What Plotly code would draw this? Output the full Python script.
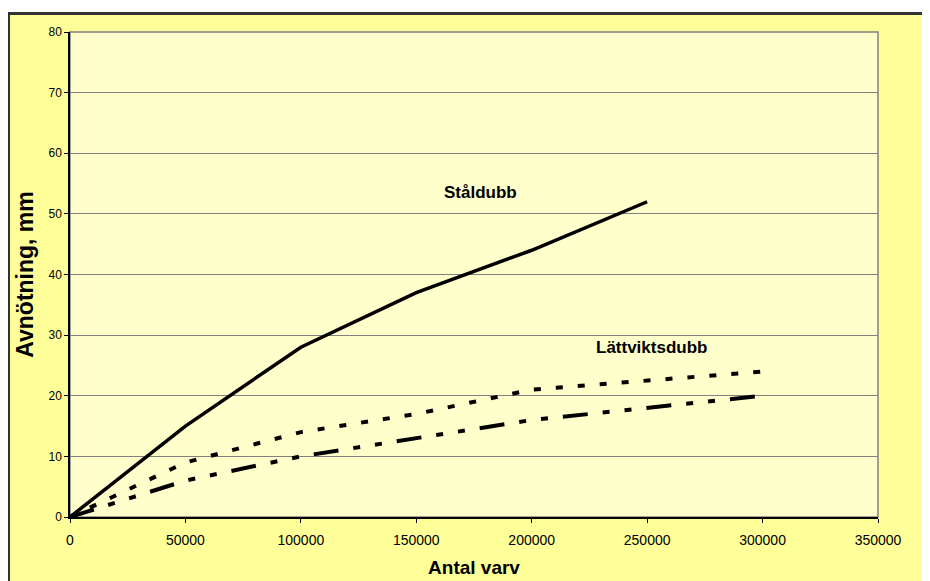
import plotly.graph_objects as go

# Data
x_steel = [0, 50000, 100000, 150000, 200000, 250000]
y_steel = [0, 15, 28, 37, 44, 52]

x_light1 = [0, 50000, 100000, 150000, 200000, 300000]
y_light1 = [0, 9, 14, 17, 21, 24]

x_light2 = [0, 50000, 100000, 150000, 200000, 300000]
y_light2 = [0, 6, 10, 13, 16, 20]

x_ticks = [0, 50000, 100000, 150000, 200000, 250000, 300000, 350000]
y_ticks = [0, 10, 20, 30, 40, 50, 60, 70, 80]

FONT = "Liberation Sans, Arial, sans-serif"

fig = go.Figure()
fig.add_trace(go.Scatter(x=x_steel, y=y_steel, mode="lines", name="Ståldubb",
                         line=dict(color="black", width=3.5)))
fig.add_trace(go.Scatter(x=x_light1, y=y_light1, mode="lines", name="Lättviktsdubb 1",
                         line=dict(color="black", width=4, dash="7px,15px")))
fig.add_trace(go.Scatter(x=x_light2, y=y_light2, mode="lines", name="Lättviktsdubb 2",
                         line=dict(color="black", width=4, dash="25px,15px,7px,15px,7px,15px")))

fig.update_layout(
    width=914, height=573,
    margin=dict(l=62, r=44, t=24, b=64),
    paper_bgcolor="white",
    plot_bgcolor="rgba(0,0,0,0)",
    showlegend=False,
    font=dict(family=FONT, color="black"),
    shapes=[
        dict(type="rect", xref="paper", yref="paper", x0=-0.0761, x1=1.3, y0=-0.4, y1=1.0381,
             fillcolor="#FFFF99", line=dict(color="#333333", width=3), layer="below"),
        dict(type="rect", xref="paper", yref="paper", x0=0, x1=1, y0=0, y1=1,
             fillcolor="#FFFFCC", line=dict(color="#808080", width=1.5), layer="below"),
    ],
    annotations=[
        dict(x=177600, y=53.5, text="<b>Ståldubb</b>", showarrow=False,
             font=dict(size=17, family=FONT, color="black")),
        dict(x=252000, y=28, text="<b>Lättviktsdubb</b>", showarrow=False,
             font=dict(size=17, family=FONT, color="black")),
    ],
)

fig.update_xaxes(
    range=[0, 350000], tickvals=x_ticks, ticktext=[str(v) for v in x_ticks],
    showgrid=False, zeroline=False, automargin=False,
    showline=True, linecolor="black", linewidth=1.5,
    ticks="outside", ticklen=4, tickcolor="black",
    ticklabelstandoff=5,
    tickfont=dict(size=14, family=FONT, color="black"),
    title=dict(text="<b>Antal varv</b>", font=dict(size=19, family=FONT, color="black"), standoff=14),
)
fig.update_yaxes(
    range=[0, 80], tickvals=y_ticks,
    showgrid=True, gridcolor="#808080", gridwidth=1,
    zeroline=False, automargin=False,
    showline=True, linecolor="black", linewidth=1.5,
    ticks="outside", ticklen=4, tickcolor="black",
    tickfont=dict(size=12, family=FONT, color="black"),
    title=dict(text="<b>Avnötning, mm</b>", font=dict(size=23, family=FONT, color="black"), standoff=8),
)

fig.write_html("out.html")
